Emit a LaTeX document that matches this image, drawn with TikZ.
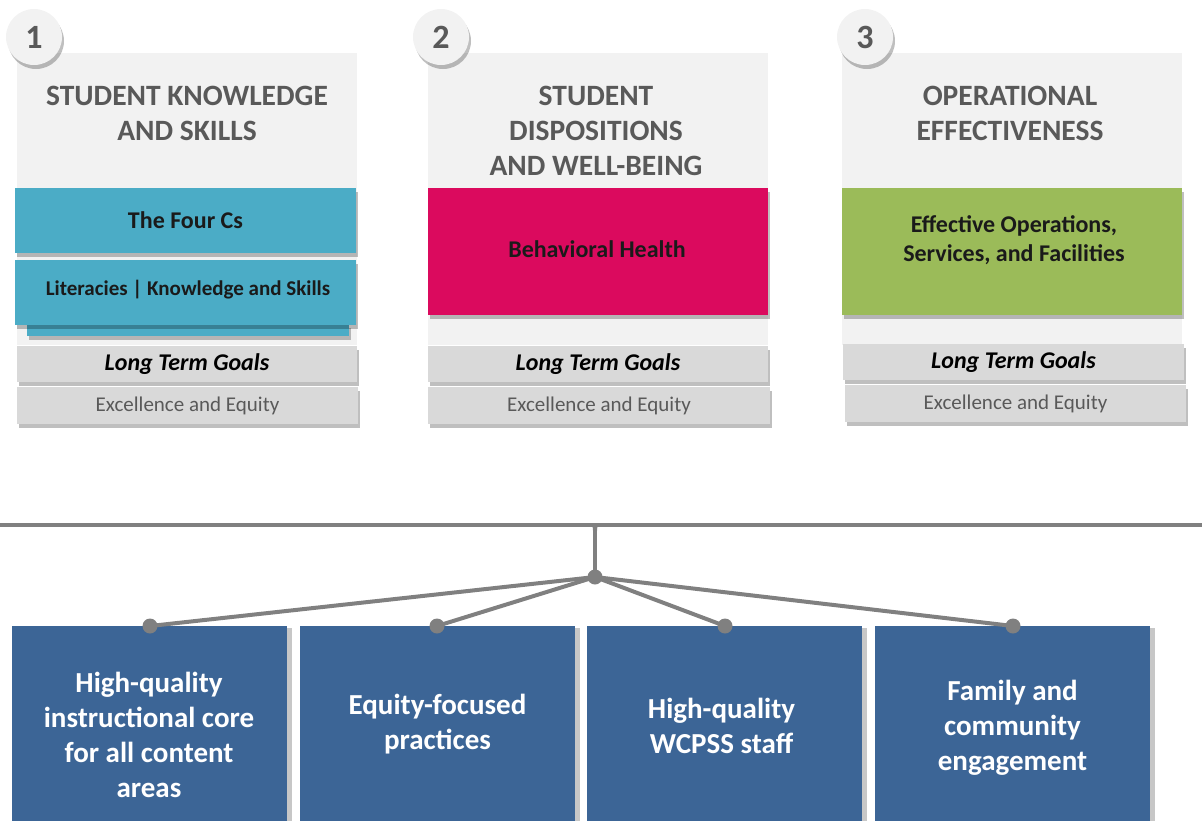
\documentclass[tikz,border=0pt]{standalone}
\usepackage{fontspec}
\setmainfont{Carlito}
\usetikzlibrary{shadows}
\definecolor{cPanel}{HTML}{F2F2F2}
\definecolor{cTeal}{HTML}{4BACC6}
\definecolor{cMag}{HTML}{DB0A5E}
\definecolor{cGreen}{HTML}{9BBB59}
\definecolor{cBar}{HTML}{D9D9D9}
\definecolor{cNavy}{HTML}{3C6596}
\definecolor{cLine}{HTML}{808080}
\definecolor{cTitle}{HTML}{595959}
\definecolor{cDark}{HTML}{1A1A1A}
\tikzset{
  base/.style={rectangle, inner sep=0pt, outer sep=0pt, align=center},
  shad/.style={drop shadow={shadow xshift=1.5pt, shadow yshift=-4pt, opacity=0.25, fill=black}},
  rshad/.style={drop shadow={shadow xshift=5pt, shadow yshift=-2pt, opacity=0.22, fill=black}},
  panelbox/.style={base, fill=cPanel},
  numcirc/.style={circle, inner sep=0pt, minimum size=56pt, fill=cPanel, text=cTitle,
    font=\fontsize{34}{34}\selectfont\bfseries,
    drop shadow={shadow xshift=2pt, shadow yshift=-4pt, opacity=0.25, fill=black}},
  titletext/.style={base, text=cTitle, font=\fontsize{29.5}{35}\selectfont\bfseries},
  colbox/.style={base, shad, text=cDark, font=\fontsize{24}{29}\selectfont\bfseries},
  boxtext/.style={base, text=cDark, font=\fontsize{24}{29}\selectfont\bfseries},
  ltg/.style={base, shad, fill=cBar, text=black, font=\fontsize{24}{29}\selectfont\bfseries\itshape},
  ee/.style={base, shad, fill=cBar, text=cTitle, font=\fontsize{21}{25}\selectfont},
  bluebox/.style={base, rshad, fill=cNavy, minimum width=275pt, minimum height=204pt},
  bluetext/.style={base, text=white, font=\fontsize{29}{35}\selectfont\bfseries},
  dot/.style={circle, fill=cLine, inner sep=0pt, outer sep=0pt, minimum size=15pt},
  conn/.style={draw=cLine, line width=4pt},
}
\begin{document}
\begin{tikzpicture}[x=1pt,y=-1pt]
\useasboundingbox (0,0) rectangle (1202,820);

% ---------- column 1 ----------
\node[panelbox, minimum width=340pt, minimum height=292pt] (p1) at (187,199) {};
\node[titletext] (t1) at (187,113.5) {STUDENT KNOWLEDGE\\AND SKILLS};
\node[base, shad, fill=cTeal, minimum width=322pt, minimum height=12pt] (s1) at (188,330) {};
\node[colbox, fill=cTeal, minimum width=341pt, minimum height=65pt] (a1) at (185.5,220.5) {};
\node[boxtext] (a1t) at (185.5,220) {The Four Cs};
\node[colbox, fill=cTeal, minimum width=341pt, minimum height=65pt] (b1) at (185.5,292.5) {};
\node[boxtext, font=\fontsize{21}{25}\selectfont\bfseries] (b1t) at (188,290) {Literacies | Knowledge and Skills};
\node[ltg, minimum width=340pt, minimum height=36pt] (l1) at (187,364) {Long Term Goals};
\node[ee, minimum width=341pt, minimum height=37pt] (e1) at (187.5,405.5) {Excellence and Equity};
\node[numcirc] (n1) at (34,37) {1};

% ---------- column 2 ----------
\node[panelbox, minimum width=340pt, minimum height=292pt] (p2) at (598,199) {};
\node[titletext] (t2) at (596,131) {STUDENT\\DISPOSITIONS\\AND WELL-BEING};
\node[colbox, fill=cMag, minimum width=340pt, minimum height=127pt] (a2) at (598,251.5) {};
\node[boxtext] (a2t) at (597,249) {Behavioral Health};
\node[ltg, minimum width=340pt, minimum height=36pt] (l2) at (598,364) {Long Term Goals};
\node[ee, minimum width=342pt, minimum height=37pt] (e2) at (599,405.5) {Excellence and Equity};
\node[numcirc] (n2) at (441,37) {2};

% ---------- column 3 ----------
\node[panelbox, minimum width=340pt, minimum height=292pt] (p3) at (1012,199) {};
\node[titletext] (t3) at (1010,113.5) {OPERATIONAL\\EFFECTIVENESS};
\node[colbox, fill=cGreen, minimum width=340pt, minimum height=127pt] (a3) at (1012,251.5) {};
\node[boxtext] (a3t) at (1014,240.5) {Effective Operations,\\Services, and Facilities};
\node[ltg, minimum width=341pt, minimum height=36pt] (l3) at (1013.5,362) {Long Term Goals};
\node[ee, minimum width=341pt, minimum height=37pt] (e3) at (1015.5,403.5) {Excellence and Equity};
\node[numcirc] (n3) at (865,37) {3};

% ---------- bottom tree ----------
\coordinate (hl) at (0,525);
\coordinate (hr) at (1202,525);
\coordinate (hub) at (595,577);
\coordinate (jm) at (595,538);
\draw[draw=cLine, line width=3.5pt] (hl) -- (hr);
\fill[cLine] (588,524) .. controls (593,525) .. (593.2,538) -- (596.8,538) .. controls (597,525) .. (602,524) -- cycle;

\node[bluebox] (q1) at (149,728) {};
\node[bluebox] (q2) at (437.5,728) {};
\node[bluebox] (q3) at (724.5,728) {};
\node[bluebox] (q4) at (1012.5,728) {};
\node[bluetext] (q1t) at (149,734.5) {High-quality\\instructional core\\for all content\\areas};
\node[bluetext] (q2t) at (437.5,724.5) {Equity-focused\\practices};
\node[bluetext] (q3t) at (721.5,725.5) {High-quality\\WCPSS staff};
\node[bluetext] (q4t) at (1012.5,727.5) {Family and\\community\\engagement};

\coordinate (c1) at (150,626);
\coordinate (c2) at (437,626);
\coordinate (c3) at (725,626);
\coordinate (c4) at (1013,626);
\draw[conn, line width=3.5pt] (jm) -- (hub);
\draw[conn] (hub) -- (c1);
\draw[conn] (hub) -- (c2);
\draw[conn] (hub) -- (c3);
\draw[conn] (hub) -- (c4);
\node[dot] (hubdot) at (hub) {};
\node[dot] (d1) at (c1) {};
\node[dot] (d2) at (c2) {};
\node[dot] (d3) at (c3) {};
\node[dot] (d4) at (c4) {};
\end{tikzpicture}
\end{document}
